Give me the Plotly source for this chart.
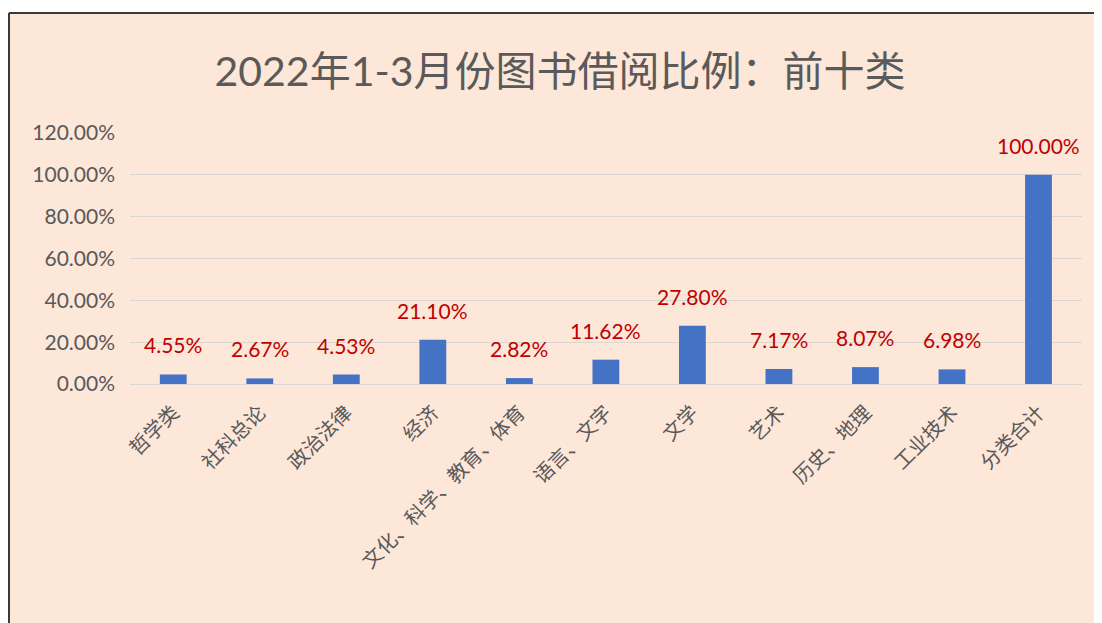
import plotly.graph_objects as go

categories = ["哲学类", "社科总论", "政治法律", "经济", "文化、科学、教育、体育",
              "语言、文字", "文学", "艺术", "历史、地理", "工业技术", "分类合计"]
values = [4.55, 2.67, 4.53, 21.10, 2.82, 11.62, 27.80, 7.17, 8.07, 6.98, 100.00]
y_ticks = [0, 20, 40, 60, 80, 100, 120]
y_tick_labels = ["0.00%", "20.00%", "40.00%", "60.00%", "80.00%", "100.00%", "120.00%"]
title_text = "2022年1-3月份图书借阅比例：前十类"

OFF = 8  # page body margin
W, H = 1102 - OFF, 623 - OFF
L, R, T, B = 130 - OFF, 20, 133 - OFF, 239
BG = "#FCE7D9"
FONT = "Lato, 'Noto Sans CJK SC', sans-serif"

fig = go.Figure(go.Bar(x=categories, y=values, marker_color="#4472C4",
                       marker_line_width=0, hoverinfo="skip"))

for c, v in zip(categories, values):
    fig.add_annotation(x=c, y=v, text=f"{v:.2f}%", showarrow=False,
                       yanchor="bottom", yshift=15,
                       font=dict(family=FONT, size=21, color="#C00000"))

pw, ph = W - L - R, H - T - B
def px(x):
    return (x - OFF - L) / pw
def py(y):
    return (H - B - (y - OFF)) / ph

shapes = [
    dict(type="line", xref="paper", yref="paper", x0=px(9), x1=px(1130),
         y0=py(13), y1=py(13), line=dict(color="#3a3a3a", width=2), layer="above"),
    dict(type="line", xref="paper", yref="paper", x0=px(9), x1=px(9),
         y0=py(13), y1=py(650), line=dict(color="#3a3a3a", width=2), layer="above"),
    dict(type="rect", xref="paper", yref="paper", x0=px(-20), x1=px(1130),
         y0=py(12), y1=py(-20), fillcolor="white", line_width=0, layer="above"),
    dict(type="rect", xref="paper", yref="paper", x0=px(-20), x1=px(8),
         y0=py(650), y1=py(-20), fillcolor="white", line_width=0, layer="above"),
]

fig.update_layout(
    width=W, height=H,
    margin=dict(l=L, r=R, t=T, b=B, pad=0),
    paper_bgcolor=BG, plot_bgcolor=BG,
    bargap=0.69,
    showlegend=False,
    shapes=shapes,
    title=dict(text=title_text, x=(560 - OFF) / W, xref="container", xanchor="center",
               y=1 - (72 - OFF) / H, yref="container", yanchor="middle",
               font=dict(family=FONT, size=41, color="#5a5a5a")),
    xaxis=dict(tickangle=-45, tickfont=dict(family=FONT, size=20, color="#595959"),
               showline=False, ticks="", showgrid=False, fixedrange=True,
               ticklabelstandoff=12),
    yaxis=dict(range=[0, 120], tickvals=y_ticks, ticktext=y_tick_labels,
               tickfont=dict(family=FONT, size=21, color="#595959"),
               showgrid=True, gridcolor="#DCD6D2", gridwidth=1,
               zeroline=True, zerolinecolor="#DCD6D2", zerolinewidth=1,
               showline=False, ticks="", ticklabelstandoff=14, fixedrange=True),
)

fig.write_html("out.html", config={"displayModeBar": False})
